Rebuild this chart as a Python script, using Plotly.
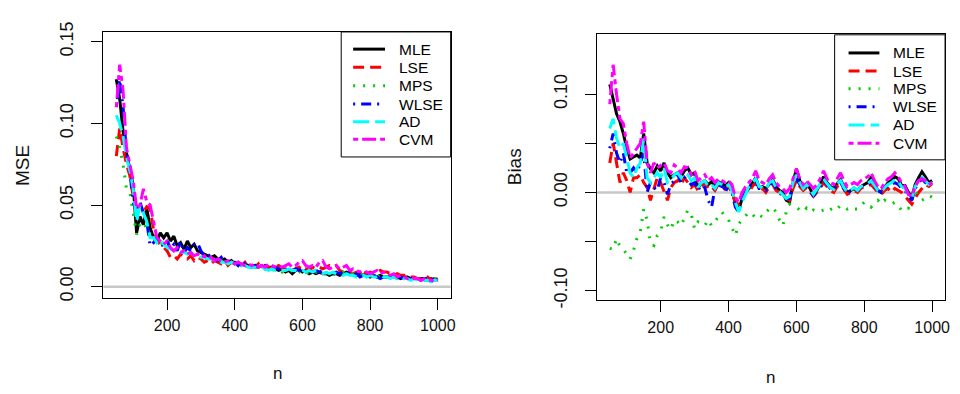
import plotly.graph_objects as go

n_vals = [50, 60, 70, 80, 90, 100, 110, 120, 130, 140,
          150, 160, 170, 180, 190, 200, 210, 220, 230, 240,
          250, 260, 270, 280, 290, 300, 310, 320, 330, 340,
          350, 360, 370, 380, 390, 400, 410, 420, 430, 440,
          450, 460, 470, 480, 490, 500, 510, 520, 530, 540,
          550, 560, 570, 580, 590, 600, 610, 620, 630, 640,
          650, 660, 670, 680, 690, 700, 710, 720, 730, 740,
          750, 760, 770, 780, 790, 800, 810, 820, 830, 840,
          850, 860, 870, 880, 890, 900, 910, 920, 930, 940,
          950, 960, 970, 980, 990, 1000]

methods = ["MLE", "LSE", "MPS", "WLSE", "AD", "CVM"]

# ---------------- MSE ----------------
mse_mle = [.127, .115, .095, .082, .072, .062, .033, .043, .038, .048,
           .036, .030, .028, .033, .030, .033, .028, .031, .025, .027,
           .023, .028, .024, .026, .022, .021, .020, .019, .018, .019,
           .017, .016, .017, .015, .016, .014, .015, .013, .014, .013,
           .012, .013, .012, .013, .011, .012, .012, .011, .010, .011,
           .009, .010, .008, .010, .011, .009, .010, .008, .009, .008,
           .009, .008, .008, .007, .008, .008, .007, .008, .009, .008,
           .008, .007, .008, .007, .007, .006, .007, .006, .007, .006,
           .006, .007, .006, .006, .005, .006, .006, .005, .005, .005,
           .005, .005, .004, .005, .004, .005]
mse_lse = [.080, .097, .085, .075, .068, .055, .049, .048, .046, .049,
           .048, .035, .028, .026, .024, .022, .018, .019, .017, .020,
           .018, .017, .019, .016, .018, .017, .015, .016, .014, .016,
           .015, .014, .016, .013, .015, .013, .014, .013, .015, .012,
           .013, .012, .014, .011, .013, .012, .011, .012, .013, .011,
           .011, .012, .010, .011, .012, .010, .011, .010, .012, .011,
           .012, .011, .012, .013, .012, .013, .010, .009, .010, .009,
           .008, .009, .008, .009, .008, .009, .008, .009, .010, .009,
           .009, .008, .007, .008, .007, .007, .006, .006, .006, .005,
           .005, .005, .006, .004, .005, .004]
mse_mps = [.092, .085, .075, .060, .058, .045, .032, .038, .040, .035,
           .030, .032, .028, .027, .026, .028, .025, .022, .024, .021,
           .022, .020, .021, .019, .020, .018, .017, .018, .016, .017,
           .015, .016, .014, .015, .013, .014, .013, .012, .013, .012,
           .011, .012, .011, .010, .011, .012, .010, .011, .010, .009,
           .010, .009, .010, .008, .009, .010, .008, .009, .010, .009,
           .008, .009, .008, .009, .008, .007, .008, .009, .008, .007,
           .008, .007, .008, .007, .006, .007, .008, .006, .007, .007,
           .006, .007, .006, .005, .006, .006, .005, .006, .005, .005,
           .005, .004, .005, .004, .005, .004]
mse_wlse = [.110, .127, .110, .082, .070, .052, .045, .052, .045, .040,
            .025, .027, .030, .028, .024, .028, .023, .026, .022, .028,
            .021, .024, .022, .026, .027, .022, .019, .020, .018, .017,
            .016, .018, .015, .016, .014, .015, .013, .016, .014, .013,
            .012, .013, .012, .011, .013, .012, .011, .012, .011, .010,
            .011, .010, .009, .011, .010, .011, .009, .010, .009, .010,
            .009, .010, .008, .009, .008, .009, .008, .009, .008, .009,
            .007, .008, .006, .007, .008, .006, .007, .006, .005, .006,
            .007, .006, .007, .006, .006, .005, .006, .005, .006, .005,
            .004, .005, .005, .004, .005, .005]
mse_ad = [.105, .100, .092, .080, .071, .060, .040, .050, .045, .040,
          .030, .030, .027, .029, .026, .024, .023, .022, .022, .021,
          .021, .020, .021, .019, .019, .018, .018, .017, .017, .016,
          .016, .015, .015, .014, .015, .014, .014, .013, .013, .012,
          .012, .012, .011, .012, .011, .010, .011, .010, .011, .010,
          .010, .011, .010, .010, .009, .010, .009, .010, .009, .010,
          .009, .008, .009, .008, .009, .008, .008, .007, .008, .007,
          .007, .006, .007, .007, .006, .007, .006, .006, .007, .006,
          .006, .005, .006, .005, .006, .005, .005, .004, .005, .004,
          .004, .004, .004, .003, .004, .004]
mse_cvm = [.110, .136, .120, .085, .075, .065, .048, .050, .060, .052,
           .050, .040, .030, .028, .026, .028, .024, .022, .024, .021,
           .022, .020, .021, .019, .020, .018, .019, .017, .018, .016,
           .017, .016, .015, .016, .015, .014, .015, .014, .013, .014,
           .013, .014, .012, .013, .012, .014, .013, .012, .013, .012,
           .013, .014, .012, .013, .015, .016, .013, .012, .013, .012,
           .015, .016, .012, .011, .012, .013, .011, .012, .013, .010,
           .011, .010, .009, .010, .009, .008, .009, .010, .008, .009,
           .008, .007, .008, .006, .007, .006, .005, .006, .005, .005,
           .004, .005, .004, .004, .003, .004]

# ---------------- Bias ----------------
bias_mle = [.110, .095, .080, .072, .060, .045, .034, .036, .038, .035,
            .060, .030, .024, .020, .027, .022, .030, .020, .015, .018,
            .020, .016, .022, .025, .018, .020, .004, .010, .012, .008,
            .011, .006, .011, .009, .007, .010, .004, -.012, -.018, -.006,
            .000, .004, .010, .015, .005, .006, .004, .008, .013, .006,
            .002, .000, -.008, -.010, .010, .024, .012, .005, .009, .004,
            -.003, .002, .008, .016, .010, .006, .004, .009, .013, .006,
            .000, .002, .004, .001, .006, .008, .010, .015, .008, .002,
            .000, .005, .010, .012, .016, .014, .007, .007, .000, -.005,
            .008, .015, .021, .016, .010, .012]
bias_lse = [.030, .050, .030, .010, .020, .012, .000, .015, .015, .018,
            .010, .005, -.008, .003, .015, .010, .000, -.008, .005, .010,
            .012, .008, .015, .010, .005, .008, .002, .006, .010, .004,
            .006, .002, .008, .005, .003, .006, .000, -.010, -.012, -.004,
            .002, .000, .006, .010, .003, .004, .000, .006, .008, .002,
            .000, -.002, -.006, -.008, .004, .012, .006, .002, .005, .000,
            -.004, .000, .004, .010, .006, .002, .000, .006, .008, .003,
            -.002, .000, .002, .000, .004, .006, .006, .008, .004, .000,
            -.002, .002, .004, .000, .004, .002, .000, -.004, -.008, -.012,
            -.006, .000, .004, .008, .006, .009]
bias_mps = [-.057, -.058, -.047, -.055, -.058, -.063, -.068, -.059, -.047, -.040,
            -.017, -.028, -.052, -.054, -.044, -.040, -.025, -.033, -.038, -.028,
            -.030, -.034, -.026, -.018, -.022, -.037, -.030, -.031, -.034, -.028,
            -.034, -.030, -.025, -.020, -.024, -.028, -.036, -.044, -.032, -.028,
            -.024, -.020, -.022, -.026, -.023, -.025, -.020, -.017, -.015, -.020,
            -.028, -.034, -.020, -.012, -.014, -.015, -.018, -.020, -.016, -.020,
            -.018, -.020, -.019, -.018, -.020, -.017, -.015, -.017, -.013, -.015,
            -.017, -.015, -.017, -.017, -.013, -.010, -.012, -.015, -.011, -.008,
            -.012, -.008, -.010, -.012, -.010, -.014, -.018, -.015, -.016, -.008,
            .001, -.004, -.008, -.006, -.003, -.005]
bias_wlse = [.045, .060, .040, .030, .040, .020, .020, .025, .020, .030,
             .040, .000, .010, .005, .002, .015, .010, -.002, .008, .012,
             .018, .010, .015, .012, .008, .010, .002, .008, .005, -.008,
             -.015, .004, .008, .006, .004, .002, .000, -.015, -.020, -.008,
             .000, .006, .008, .012, .004, .004, .002, .008, .010, .004,
             .000, -.004, -.006, -.006, .008, .014, .008, .004, .006, .002,
             -.004, .002, .006, .012, .008, .004, .002, .008, .010, .004,
             -.002, .002, .004, .002, .006, .007, .008, .010, .006, .002,
             .000, .004, .007, .008, .010, .008, .004, .002, -.004, -.008,
             .004, .010, .014, .010, .008, .010]
bias_ad = [.065, .075, .055, .045, .050, .035, .020, .015, .025, .030,
           .055, .015, .010, .015, .020, .015, .025, .010, .012, .018,
           .020, .015, .020, .018, .012, .015, .005, .010, .012, .006,
           .008, .004, .010, .008, .005, .008, .002, -.010, -.020, -.010,
           -.002, .006, .010, .014, .006, .005, .003, .010, .012, .005,
           .001, -.002, -.006, -.004, .010, .018, .010, .004, .008, .003,
           -.002, .003, .008, .014, .009, .005, .003, .009, .012, .005,
           .000, .003, .005, .002, .006, .007, .009, .012, .007, .002,
           .000, .005, .008, .010, .013, .011, .006, .004, -.002, -.006,
           .006, .012, .016, .012, .008, .010]
bias_cvm = [.090, .130, .100, .075, .070, .050, .035, .040, .045, .050,
            .072, .030, .020, .030, .025, .028, .030, .022, .020, .028,
            .025, .020, .026, .025, .018, .022, .012, .015, .018, .012,
            .015, .010, .014, .012, .010, .012, .008, -.005, -.010, .000,
            .006, .010, .014, .022, .012, .010, .008, .014, .018, .010,
            .006, .004, .000, .004, .014, .024, .014, .008, .012, .008,
            .004, .008, .014, .022, .014, .010, .008, .014, .020, .012,
            .006, .008, .010, .008, .012, .014, .016, .020, .012, .006,
            .004, .010, .014, .016, .020, .016, .010, .006, -.002, -.004,
            .006, .012, .014, .012, .008, .010]

x_ticks = [200, 400, 600, 800, 1000]
x_ticktext = ["200", "400", "600", "800", "1000"]
mse_ticks = [0.0, 0.05, 0.10, 0.15]
mse_ticktext = ["0.00", "0.05", "0.10", "0.15"]
bias_ticks = [-0.10, -0.05, 0.0, 0.05, 0.10]
bias_ticktext = ["-0.10", "", "0.00", "", "0.10"]

mse_series = [mse_mle, mse_lse, mse_mps, mse_wlse, mse_ad, mse_cvm]
bias_series = [bias_mle, bias_lse, bias_mps, bias_wlse, bias_ad, bias_cvm]

colors = ["#000000", "#FF0000", "#00CD00", "#0000FF", "#00FFFF", "#FF00FF"]
dashes = ["solid", "11px,6px", "2px,8px", "2px,6px,10px,6px", "16px,6px", "5px,4px,14px,4px"]
LW = 3

FONT = "Liberation Sans, Arial, sans-serif"
W, H = 960, 394

# pixel layout of the two plot regions
L_left, L_right, L_top, L_bot = 104, 453, 23, 302
R_left, R_right, R_top, R_bot = 600, 950, 25, 304

fig = go.Figure()
for name, ys, c, d in zip(methods, mse_series, colors, dashes):
    fig.add_trace(go.Scatter(x=n_vals, y=ys, mode="lines", name=name,
                             line=dict(color=c, width=LW, dash=d),
                             xaxis="x", yaxis="y", showlegend=False))
for name, ys, c, d in zip(methods, bias_series, colors, dashes):
    fig.add_trace(go.Scatter(x=n_vals, y=ys, mode="lines", name=name,
                             line=dict(color=c, width=LW, dash=d),
                             xaxis="x2", yaxis="y2", showlegend=False))

axis_common = dict(showline=True, mirror=True, linecolor="black", linewidth=1,
                   ticks="outside", ticklen=11, tickcolor="black", tickwidth=1,
                   showgrid=False, zeroline=False)
xfont = dict(family=FONT, size=16, color="#111")
yfont = dict(family=FONT, size=18, color="#111")

fig.update_layout(
    width=W, height=H,
    margin=dict(l=0, r=0, t=0, b=0),
    paper_bgcolor="white", plot_bgcolor="white",
    showlegend=False,
    xaxis=dict(domain=[L_left / W, L_right / W], range=[12, 1038],
               tickvals=x_ticks, ticktext=x_ticktext, anchor="y",
               ticklabelstandoff=2, tickfont=xfont, **axis_common),
    yaxis=dict(domain=[1 - L_bot / H, 1 - L_top / H], range=[-0.007, 0.156],
               tickvals=mse_ticks, ticktext=mse_ticktext, anchor="x",
               tickangle=-90, ticklabelstandoff=11, tickfont=yfont, **axis_common),
    xaxis2=dict(domain=[R_left / W, R_right / W], range=[12, 1038],
                tickvals=x_ticks, ticktext=x_ticktext, anchor="y2",
                ticklabelstandoff=2, tickfont=xfont, **axis_common),
    yaxis2=dict(domain=[1 - R_bot / H, 1 - R_top / H], range=[-0.1097, 0.1615],
                tickvals=bias_ticks, ticktext=bias_ticktext, anchor="x2",
                tickangle=-90, ticklabelstandoff=11, tickfont=yfont, **axis_common),
)

# grey reference line at zero
for xr, yr in [("x domain", "y"), ("x2 domain", "y2")]:
    fig.add_shape(type="line", xref=xr, yref=yr, x0=0, x1=1, y0=0, y1=0,
                  line=dict(color="#C8C8C8", width=2.5), layer="below")

# legends (R-style boxes in the top-right corner of each panel)
leg_font = dict(family=FONT, size=15.5, color="black")
legend_specs = [
    # box x0, x1, y0, y1, sample x0, x1, text x, row y positions
    (343, 453, 23, 154, 355, 387, 399, [41, 60, 79.5, 98.5, 117, 135.5]),
    (839, 950, 26, 157, 853, 884, 896, [45, 64, 82.5, 101.5, 120.5, 139.5]),
]
for bx0, bx1, by0, by1, sx0, sx1, tx, rows in legend_specs:
    fig.add_shape(type="rect", xref="paper", yref="paper",
                  x0=bx0 / W, x1=bx1 / W, y0=1 - by1 / H, y1=1 - by0 / H,
                  line=dict(color="black", width=1), fillcolor="white", layer="above")
    for name, c, d, ry in zip(methods, colors, dashes, rows):
        fig.add_shape(type="line", xref="paper", yref="paper",
                      x0=sx0 / W, x1=sx1 / W, y0=1 - ry / H, y1=1 - ry / H,
                      line=dict(color=c, width=LW, dash=d), layer="above")
        fig.add_annotation(text=name, x=tx / W, y=1 - ry / H, xref="paper", yref="paper",
                           xanchor="left", yanchor="middle", showarrow=False, font=leg_font)

# axis titles
vfont = dict(family=FONT, size=19, color="#111")
hfont = dict(family=FONT, size=17, color="#111")
titles = [
    ("MSE", 22, 162.5, -90, vfont),
    ("Bias", 518, 164.5, -90, vfont),
    ("n", (L_left + L_right) / 2, 381, 0, hfont),
    ("n", (R_left + R_right) / 2, 385, 0, hfont),
]
for txt, px, py, ang, f in titles:
    fig.add_annotation(text=txt, x=px / W, y=1 - py / H, xref="paper", yref="paper",
                       xanchor="center", yanchor="middle", textangle=ang,
                       showarrow=False, font=f)

fig.write_html("out.html")
